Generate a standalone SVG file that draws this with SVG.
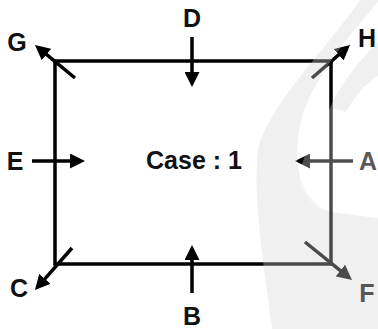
<svg xmlns="http://www.w3.org/2000/svg" width="378" height="329" viewBox="0 0 378 329">
<style>
.ln{stroke:#000;stroke-width:3.5;fill:none}
.ar{stroke:#000;stroke-width:3.5;fill:none;marker-end:url(#ah)}
.lb{font-family:"Liberation Sans",Arial,sans-serif;font-weight:bold;font-size:25px;fill:#111;text-anchor:middle}
.wmg{fill:#d4d4d4;fill-opacity:0.35}
.wmw{fill:#fff;fill-opacity:0.3}
</style>
<defs>
<marker id="ah" markerUnits="userSpaceOnUse" markerWidth="15" markerHeight="15" refX="6" refY="7.5" orient="auto">
<path d="M0,0 L15,7.5 L0,15 Z" fill="#000"/>
</marker>
</defs>
<rect width="378" height="329" fill="#fff"/>
<g id="box">
<rect class="ln" x="55" y="61" width="276" height="203"/>
</g>
<g id="connectors">
<line class="ar" x1="192" y1="37" x2="192" y2="78"/>
<line class="ar" x1="192" y1="293" x2="192" y2="254"/>
<line class="ar" x1="32" y1="161" x2="76" y2="161"/>
<line class="ar" x1="353" y1="161" x2="304" y2="161"/>
<line class="ar" x1="75" y1="78" x2="41.9" y2="50.7"/>
<line class="ar" x1="312" y1="78" x2="343.2" y2="50.9"/>
<line class="ar" x1="72" y1="248" x2="40.9" y2="283.3"/>
<line class="ar" x1="305" y1="242" x2="345" y2="274.3"/>
</g>
<g id="labels">
<g id="G"><text class="lb" x="17" y="51">G</text></g>
<g id="D"><text class="lb" x="192" y="27">D</text></g>
<g id="H"><text class="lb" x="367" y="47">H</text></g>
<g id="E"><text class="lb" x="15" y="170">E</text></g>
<g id="case"><text class="lb" x="194" y="169">Case : 1</text></g>
<g id="A"><text class="lb" x="368" y="170">A</text></g>
<g id="C"><text class="lb" x="19" y="297">C</text></g>
<g id="B"><text class="lb" x="192" y="325">B</text></g>
<g id="F"><text class="lb" x="367" y="302">F</text></g>
</g>
<g id="watermark">
<path class="wmg" d="M360,0 L378,0 L378,2 C350,35 310,80 300,125 C292,165 300,200 330,212 L378,218 L378,329 L272,329 C265,270 252,200 258,150 C268,105 330,45 360,0 Z"/>
<path class="wmg" d="M378,42 C355,65 338,88 330,108 L346,112 C355,96 365,84 378,76 Z"/>
<path class="wmw" d="M378,76 C365,84 355,96 346,112 L330,108 C315,135 296,165 300,185 C305,200 315,208 330,212 L378,218 Z"/>
</g>
</svg>
